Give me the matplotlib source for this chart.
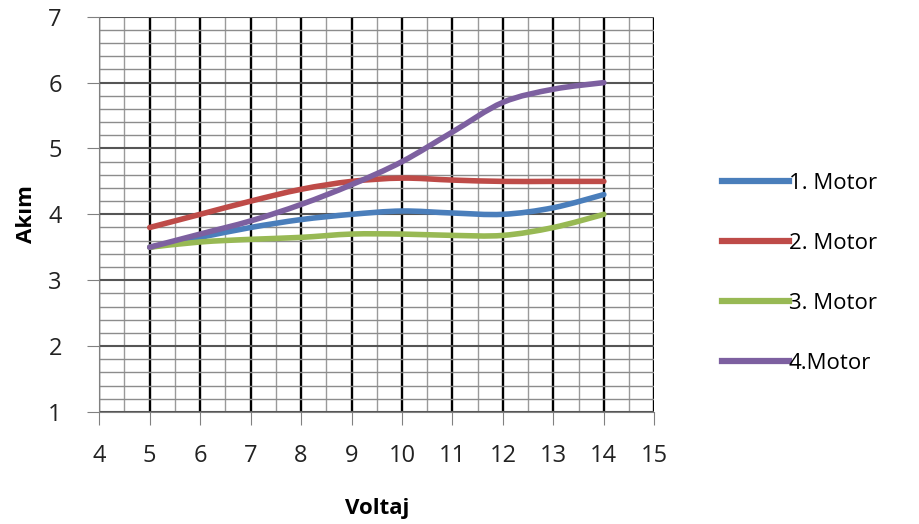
import numpy as np
import matplotlib.pyplot as plt
from matplotlib.path import Path
from matplotlib.patches import PathPatch
from matplotlib.lines import Line2D
from matplotlib.ticker import MultipleLocator

plt.rcParams['font.family'] = ['Open Sans', 'DejaVu Sans']

voltaj = [5, 6, 7, 8, 9, 10, 11, 12, 13, 14]
motor_1 = [3.5, 3.65, 3.8, 3.92, 4.0, 4.05, 4.02, 4.0, 4.1, 4.3]
motor_2 = [3.8, 4.0, 4.2, 4.38, 4.5, 4.55, 4.52, 4.5, 4.5, 4.5]
motor_3 = [3.5, 3.58, 3.62, 3.65, 3.7, 3.7, 3.68, 3.68, 3.8, 4.0]
motor_4 = [3.5, 3.7, 3.9, 4.15, 4.45, 4.8, 5.25, 5.7, 5.9, 6.0]
labels = ["1. Motor", "2. Motor", "3. Motor", "4.Motor"]
colors = ["#4A7EBB", "#BE4B48", "#98B954", "#7D60A0"]


def smooth_path(x, y, t=1 / 6):
    # excel-like smoothed line: bezier segments through the data points
    x = np.asarray(x, float)
    y = np.asarray(y, float)
    verts = [(x[0], y[0])]
    codes = [Path.MOVETO]
    n = len(x)
    for i in range(n - 1):
        p0 = np.array([x[max(i - 1, 0)], y[max(i - 1, 0)]])
        p1 = np.array([x[i], y[i]])
        p2 = np.array([x[i + 1], y[i + 1]])
        p3 = np.array([x[min(i + 2, n - 1)], y[min(i + 2, n - 1)]])
        c1 = p1 + (p2 - p0) * t
        c2 = p2 - (p3 - p1) * t
        verts += [tuple(c1), tuple(c2), tuple(p2)]
        codes += [Path.CURVE4] * 3
    return Path(verts, codes)


figure, axes = plt.subplots(figsize=(9.19, 5.24), dpi=100)
figure.subplots_adjust(left=0.108, right=0.712, top=0.968, bottom=0.214)

for series, color in zip([motor_1, motor_2, motor_3, motor_4], colors):
    patch = PathPatch(smooth_path(voltaj, series), facecolor="none", edgecolor=color,
                      lw=4.0, capstyle="round", joinstyle="round", zorder=3)
    axes.add_patch(patch)

axes.set_xlim(4, 15)
axes.set_ylim(1, 7)
axes.xaxis.set_major_locator(MultipleLocator(1))
axes.xaxis.set_minor_locator(MultipleLocator(0.5))
axes.yaxis.set_major_locator(MultipleLocator(1))
axes.yaxis.set_minor_locator(MultipleLocator(0.2))

axes.grid(which="major", axis="x", color="black", lw=1.7)
axes.grid(which="minor", axis="x", color="#9a9a9a", lw=1.0)
axes.grid(which="major", axis="y", color="#555555", lw=1.5)
axes.grid(which="minor", axis="y", color="#8c8c8c", lw=1.0)
axes.set_axisbelow(True)

for side in ["top", "right"]:
    axes.spines[side].set_visible(False)
axes.spines["left"].set_color("#808080")
axes.spines["bottom"].set_color("#808080")
axes.tick_params(which="major", length=9, color="#808080", labelsize=17, pad=14, labelcolor="#222222")
axes.tick_params(axis="y", pad=18)
axes.tick_params(which="minor", length=0)

axes.set_xlabel("Voltaj", fontsize=16, fontweight="bold", labelpad=22)
axes.set_ylabel("Akım", fontsize=16, fontweight="bold", labelpad=8)

handles = [Line2D([], [], color=c, lw=4.5) for c in colors]
figure.legend(handles, labels, loc="center left", bbox_to_anchor=(0.764, 0.478),
              frameon=False, fontsize=16, handlelength=3.0, handletextpad=0.0,
              labelspacing=1.75)

figure.savefig("out.png", dpi=100)
